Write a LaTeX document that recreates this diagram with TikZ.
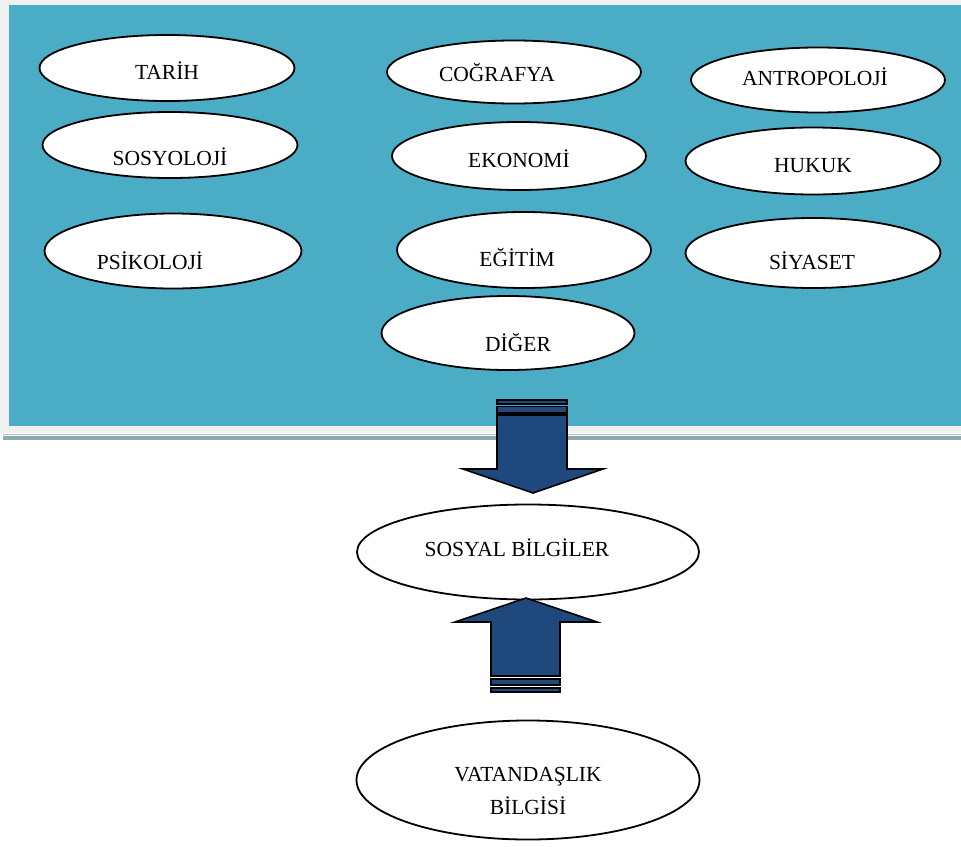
\documentclass[tikz,border=0pt]{standalone}
\usepackage{fontspec}
\setmainfont{Liberation Serif}
\usetikzlibrary{shapes.geometric}
\definecolor{panelblue}{HTML}{4BACC6}
\definecolor{framegray}{HTML}{F0F0F0}
\definecolor{arrowblue}{HTML}{1F497D}
\definecolor{rulegray}{HTML}{8FA9B0}
\definecolor{rulelight}{HTML}{A6C0C6}
\begin{document}
\begin{tikzpicture}[x=1pt,y=-1pt,
  oval/.style={ellipse, draw=black, line width=1.8pt, fill=white, inner sep=0pt},
  lbl/.style={font=\fontsize{21.5}{28}\selectfont, inner sep=0pt, text height=0.662em, text depth=0pt},
  blockarrow/.style={fill=arrowblue, draw=black, line width=1.6pt, line join=miter}]
\useasboundingbox (0,0) rectangle (961,846);
\fill[white] (0,0) rectangle (961,846);
\fill[framegray] (0,0) rectangle (961,433);
\fill[panelblue] (9,5) rectangle (961,426);
\fill[rulelight] (3,433.5) rectangle (961,435);
\fill[rulegray] (3,436) rectangle (961,439.5);

\node[oval, minimum width=255, minimum height=66, label={[lbl, shift={(0,8)}]center:TARİH}] (tarih) at (167,68) {};
\node[oval, minimum width=254, minimum height=63, label={[lbl, shift={(-17,6)}]center:COĞRAFYA}] (cografya) at (514,72) {};
\node[oval, minimum width=254, minimum height=65, label={[lbl, shift={(-3,2)}]center:ANTROPOLOJİ}] (antro) at (818,80) {};
\node[oval, minimum width=255, minimum height=66, label={[lbl, shift={(0,17)}]center:SOSYOLOJİ}] (sosyo) at (170,145) {};
\node[oval, minimum width=254, minimum height=68, label={[lbl, shift={(0,8)}]center:EKONOMİ}] (ekonomi) at (519,156) {};
\node[oval, minimum width=255, minimum height=67, label={[lbl, shift={(0,8)}]center:HUKUK}] (hukuk) at (813,161) {};
\node[oval, minimum width=257, minimum height=75, label={[lbl, shift={(-23,15)}]center:PSİKOLOJİ}] (psiko) at (173,251) {};
\node[oval, minimum width=254, minimum height=76, label={[lbl, shift={(-7,13)}]center:EĞİTİM}] (egitim) at (524,250) {};
\node[oval, minimum width=255, minimum height=70, label={[lbl, shift={(-1,13)}]center:SİYASET}] (siyaset) at (813,253) {};
\node[oval, minimum width=253, minimum height=74, label={[lbl, shift={(10,15)}]center:DİĞER}] (diger) at (508,333) {};

\node[oval, minimum width=342, minimum height=95, label={[lbl, shift={(-11,1)}]center:SOSYAL BİLGİLER}] (sosyal) at (528,552) {};
\node[oval, minimum width=343, minimum height=119] (vatan) at (528,780) {};
\node[font=\fontsize{21.5}{33}\selectfont, align=center, inner sep=0pt] (vatantext) at (528,791) {VATANDAŞLIK\\BİLGİSİ};

% down block arrow
\draw[blockarrow] (497,400) rectangle (567,404);
\draw[blockarrow] (497,406.5) rectangle (567,413);
\draw[blockarrow] (497,415) -- (567,415) -- (567,469) -- (603,469) -- (533,493) -- (463,469) -- (497,469) -- cycle;

% up block arrow
\draw[blockarrow] (491,676) -- (491,622) -- (455,622) -- (526,598) -- (597,622) -- (560,622) -- (560,676) -- cycle;
\draw[blockarrow] (491,679) rectangle (560,685);
\draw[blockarrow] (491,688) rectangle (560,692);
\end{tikzpicture}
\end{document}
